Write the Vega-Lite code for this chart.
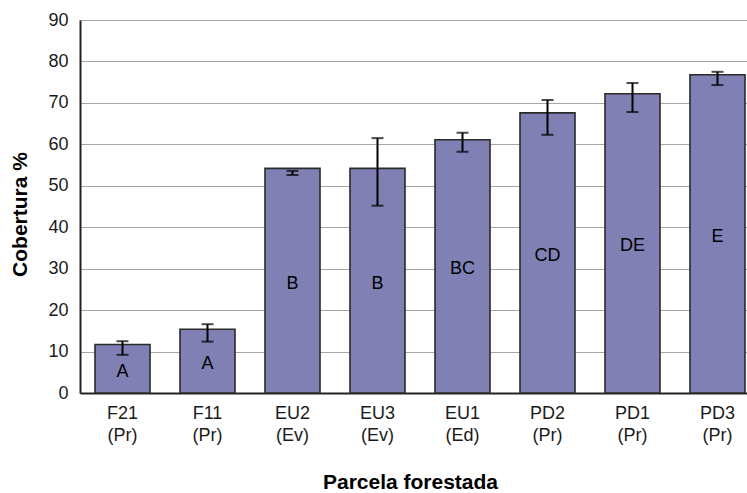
{
  "$schema": "https://vega.github.io/schema/vega-lite/v6.json",
  "autosize": "none",
  "width": 667,
  "height": 373,
  "padding": {"left": 80, "top": 20, "right": 0, "bottom": 100},
  "background": "white",
  "config": {
    "view": {"stroke": null},
    "font": "Liberation Sans",
    "axis": {"labelFont": "Liberation Sans", "titleFont": "Liberation Sans"}
  },
  "data": {
    "values": [
      {"parcela": "F21 (Pr)", "cobertura": 11.7, "lo": 9.2, "hi": 12.5, "grupo": "A", "mid": 5.85},
      {"parcela": "F11 (Pr)", "cobertura": 15.4, "lo": 12.4, "hi": 16.6, "grupo": "A", "mid": 7.7},
      {"parcela": "EU2 (Ev)", "cobertura": 54.2, "lo": 52.6, "hi": 53.6, "grupo": "B", "mid": 27.1},
      {"parcela": "EU3 (Ev)", "cobertura": 54.2, "lo": 45.2, "hi": 61.5, "grupo": "B", "mid": 27.1},
      {"parcela": "EU1 (Ed)", "cobertura": 61.1, "lo": 58.2, "hi": 62.8, "grupo": "BC", "mid": 30.55},
      {"parcela": "PD2 (Pr)", "cobertura": 67.6, "lo": 62.3, "hi": 70.7, "grupo": "CD", "mid": 33.8},
      {"parcela": "PD1 (Pr)", "cobertura": 72.2, "lo": 67.8, "hi": 74.8, "grupo": "DE", "mid": 36.1},
      {"parcela": "PD3 (Pr)", "cobertura": 76.8, "lo": 74.3, "hi": 77.5, "grupo": "E", "mid": 38.4}
    ]
  },
  "encoding": {
    "x": {
      "field": "parcela",
      "type": "nominal",
      "sort": null,
      "scale": {"range": [0, 680], "paddingInner": 0.353, "paddingOuter": 0.1765},
      "axis": {
        "title": "Parcela forestada",
        "titleFontSize": 21,
        "titleFontWeight": "bold",
        "titleColor": "black",
        "titleX": 330,
        "titleY": 89,
        "titleBaseline": "middle",
        "labelExpr": "split(datum.label, ' ')",
        "labelFontSize": 18,
        "labelColor": "#1a1a1a",
        "labelLineHeight": 22,
        "labelAngle": 0,
        "labelPadding": 11,
        "labelBaseline": "top",
        "ticks": false,
        "domainColor": "#222222",
        "domainWidth": 2,
        "grid": false
      }
    }
  },
  "layer": [
    {
      "mark": {"type": "bar", "color": "#8080B4", "stroke": "#2a2a2a", "strokeWidth": 1.6},
      "encoding": {
        "y": {
          "field": "cobertura",
          "type": "quantitative",
          "scale": {"domain": [0, 90], "nice": false},
          "axis": {
            "title": "Cobertura %",
            "titleFontSize": 21,
            "titleFontWeight": "bold",
            "titleColor": "black",
            "titleX": -60,
            "titleY": 194,
            "titleBaseline": "middle",
            "titleAngle": 270,
            "values": [0, 10, 20, 30, 40, 50, 60, 70, 80, 90],
            "labelFontSize": 18,
            "labelColor": "#1a1a1a",
            "labelPadding": 12,
            "ticks": false,
            "domainColor": "#222222",
            "domainWidth": 2,
            "grid": true,
            "gridColor": "#a6a6a6",
            "gridWidth": 1.2
          }
        }
      }
    },
    {
      "mark": {"type": "rule", "color": "black", "strokeWidth": 2},
      "encoding": {
        "y": {"field": "lo", "type": "quantitative"},
        "y2": {"field": "hi"}
      }
    },
    {
      "mark": {"type": "tick", "color": "black", "size": 12, "thickness": 2},
      "encoding": {"y": {"field": "lo", "type": "quantitative"}}
    },
    {
      "mark": {"type": "tick", "color": "black", "size": 12, "thickness": 2},
      "encoding": {"y": {"field": "hi", "type": "quantitative"}}
    },
    {
      "mark": {"type": "text", "fontSize": 18, "color": "black", "baseline": "middle", "dy": 3},
      "encoding": {
        "y": {"field": "mid", "type": "quantitative"},
        "text": {"field": "grupo"}
      }
    }
  ]
}
